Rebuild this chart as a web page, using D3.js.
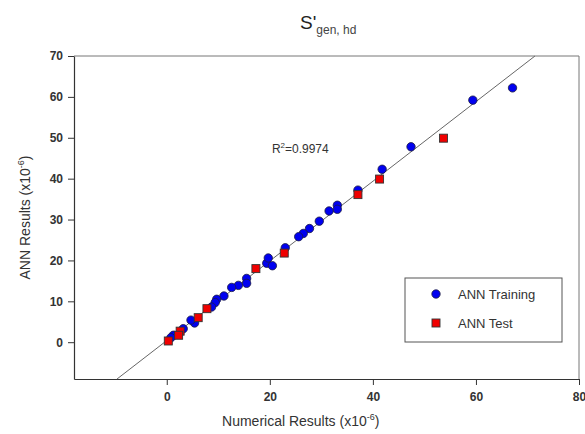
<!DOCTYPE html>
<html>
<head>
<meta charset="utf-8">
<script src="https://cdn.jsdelivr.net/npm/d3@7"></script>
<style>
  body { margin: 0; background: #fff; }
  text { font-family: "Liberation Sans", Arial, sans-serif; }
</style>
</head>
<body>
<div id="chart"></div>
<script>
// ANN training points [numerical, ann] (x10^-6)
const trainX = [67.1, 59.4, 47.4, 41.8, 37.1, 33.1, 33.1, 31.5, 29.6, 27.7, 26.5, 25.6, 23.0,
  19.4, 20.5, 19.7, 15.5, 15.5, 13.9, 12.6, 11.1, 9.7, 9.4, 8.7, 5.4, 4.7, 3.2, 1.3, 0.8];
const trainY = [62.2, 59.2, 47.8, 42.3, 37.2, 33.5, 32.5, 32.1, 29.6, 27.8, 26.6, 25.8, 23.1,
  19.3, 18.7, 20.6, 15.6, 14.4, 13.9, 13.4, 11.3, 10.5, 9.7, 8.6, 4.7, 5.4, 3.3, 1.7, 1.1];
// ANN test points
const testX = [53.7, 41.3, 37.1, 22.8, 17.3, 7.8, 6.1, 2.6, 2.3, 0.3];
const testY = [49.9, 39.9, 36.1, 21.8, 18.0, 8.2, 6.0, 2.7, 1.7, 0.3];
// fit line y = a*x + b
const fitSlope = 0.974;
const fitIntercept = 0.4;
const xTicks = [0, 20, 40, 60, 80];
const yTicks = [0, 10, 20, 30, 40, 50, 60, 70];
const legendLabels = ["ANN Training", "ANN Test"];

const W = 585, H = 434;
const margin = { top: 56, right: 6, bottom: 55, left: 74 };
const width = W - margin.left - margin.right;
const height = H - margin.top - margin.bottom;

const svg = d3.select('#chart').append('svg')
  .attr('width', W)
  .attr('height', H);

const g = svg.append('g').attr('transform', 'translate(' + margin.left + ',' + margin.top + ')');

const x = d3.scaleLinear().domain([-18, 80]).range([0, width]);
const y = d3.scaleLinear().domain([-9, 70]).range([height, 0]);

// frame (top/right lighter)
g.append('line').attr('x1', 0).attr('x2', width).attr('y1', 0).attr('y2', 0)
  .attr('stroke', '#777').attr('stroke-width', 1);
g.append('line').attr('x1', width).attr('x2', width).attr('y1', 0).attr('y2', height)
  .attr('stroke', '#777').attr('stroke-width', 1);

// axes
const xAxis = g.append('g')
  .attr('transform', 'translate(0,' + height + ')')
  .call(d3.axisBottom(x).tickValues(xTicks).tickSize(6).tickPadding(7).tickSizeOuter(0));
const yAxis = g.append('g')
  .call(d3.axisLeft(y).tickValues(yTicks).tickSize(6).tickPadding(5).tickSizeOuter(0));

[xAxis, yAxis].forEach(function(a) {
  a.select('.domain').attr('stroke', '#333').attr('stroke-width', 1.2);
  a.selectAll('.tick line').attr('stroke', '#333');
  a.selectAll('.tick text')
    .attr('fill', '#333')
    .style('font-size', '12px')
    .style('font-weight', 'bold')
    .style('font-family', '"Liberation Sans", Arial, sans-serif');
});

// fit line clipped to plot box
const xLo = (y.domain()[0] - fitIntercept) / fitSlope;
const xHi = (y.domain()[1] - fitIntercept) / fitSlope;
g.append('line')
  .attr('x1', x(xLo)).attr('y1', y(fitSlope * xLo + fitIntercept))
  .attr('x2', x(xHi)).attr('y2', y(fitSlope * xHi + fitIntercept))
  .attr('stroke', '#666').attr('stroke-width', 1);

// training points
g.append('g').selectAll('circle')
  .data(trainX.map(function(v, i) { return [v, trainY[i]]; }))
  .enter().append('circle')
  .attr('cx', function(d) { return x(d[0]); })
  .attr('cy', function(d) { return y(d[1]); })
  .attr('r', 4.2)
  .attr('fill', '#0000f0')
  .attr('stroke', '#1a1a40')
  .attr('stroke-width', 0.8);

// test points
const s = 8;
g.append('g').selectAll('rect')
  .data(testX.map(function(v, i) { return [v, testY[i]]; }))
  .enter().append('rect')
  .attr('x', function(d) { return x(d[0]) - s / 2; })
  .attr('y', function(d) { return y(d[1]) - s / 2; })
  .attr('width', s).attr('height', s)
  .attr('fill', '#f00000')
  .attr('stroke', '#333')
  .attr('stroke-width', 0.9);

// R^2 annotation
const r2 = g.append('text')
  .attr('x', x(20.4)).attr('y', 97)
  .attr('fill', '#333')
  .style('font-size', '12px');
r2.append('tspan').text('R');
r2.append('tspan').attr('dy', -5).style('font-size', '8px').text('2');
r2.append('tspan').attr('dy', 5).text('=0.9974');

// legend
const lg = svg.append('g').attr('transform', 'translate(405,278)');
lg.append('rect').attr('width', 157).attr('height', 64)
  .attr('fill', '#fff').attr('stroke', '#555').attr('stroke-width', 1);
lg.append('circle').attr('cx', 31).attr('cy', 16).attr('r', 4.2)
  .attr('fill', '#0000f0').attr('stroke', '#1a1a40').attr('stroke-width', 0.8);
lg.append('rect').attr('x', 27).attr('y', 41).attr('width', s).attr('height', s)
  .attr('fill', '#f00000').attr('stroke', '#333').attr('stroke-width', 0.9);
legendLabels.forEach(function(t, i) {
  lg.append('text')
    .attr('x', 53).attr('y', 16 + i * 29).attr('dy', '0.35em')
    .attr('fill', '#333')
    .style('font-size', '13px')
    .text(t);
});

// title
const title = svg.append('text')
  .attr('x', 300).attr('y', 29)
  .attr('fill', '#222');
title.append('tspan').style('font-size', '19px').text("S'");
title.append('tspan').attr('dy', 5).style('font-size', '12px').attr('fill', '#444').text('gen, hd');

// x label
const xl = svg.append('text')
  .attr('x', margin.left + x(26)).attr('y', 426)
  .attr('text-anchor', 'middle')
  .attr('fill', '#333')
  .style('font-size', '14px');
xl.append('tspan').text('Numerical Results (x10');
xl.append('tspan').attr('dy', -6).style('font-size', '9px').text('-6');
xl.append('tspan').attr('dy', 6).text(')');

// y label
const yl = svg.append('text')
  .attr('transform', 'translate(30,' + (margin.top + y(30.5)) + ') rotate(-90)')
  .attr('text-anchor', 'middle')
  .attr('fill', '#333')
  .style('font-size', '14px');
yl.append('tspan').text('ANN Results (x10');
yl.append('tspan').attr('dy', -6).style('font-size', '9px').text('-6');
yl.append('tspan').attr('dy', 6).text(')');
</script>
</body>
</html>
